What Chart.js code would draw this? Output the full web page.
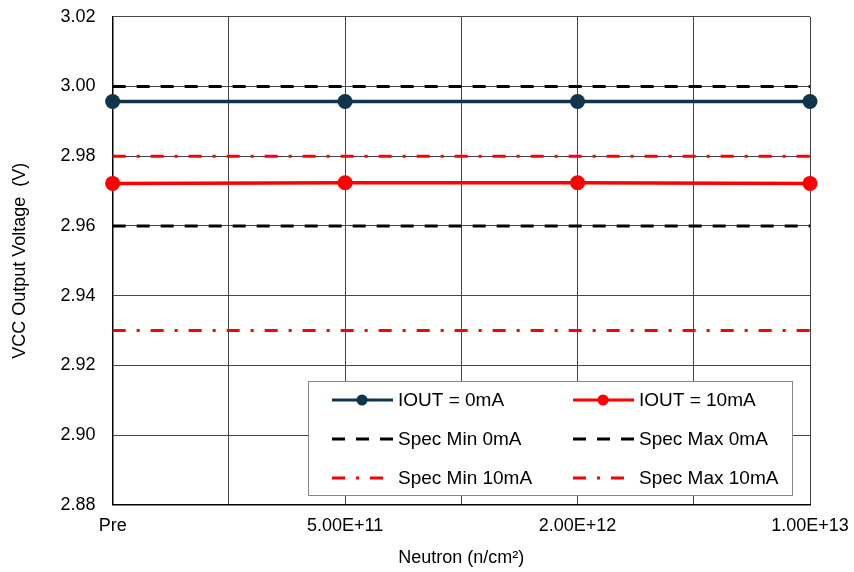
<!DOCTYPE html>
<html>
<head>
<meta charset="utf-8">
<script src="https://cdn.jsdelivr.net/npm/chart.js@4.4.1/dist/chart.umd.min.js"></script>
<style>
  html, body { margin: 0; padding: 0; background: #fff; }
  #wrap { width: 854px; height: 572px; }
</style>
</head>
<body>
<div id="wrap"><canvas id="chart" width="854" height="572"></canvas></div>
<script>
const categories = ['Pre', '5.00E+11', '2.00E+12', '1.00E+13'];
const iout0 = [2.9957, 2.9957, 2.9957, 2.9957];
const iout10 = [2.9722, 2.9724, 2.9724, 2.9722];
const specMin0 = [2.96, 2.96, 2.96, 2.96];
const specMax0 = [3.00, 3.00, 3.00, 3.00];
const specMin10 = [2.93, 2.93, 2.93, 2.93];
const specMax10 = [2.98, 2.98, 2.98, 2.98];
const yTicks = [2.88, 2.90, 2.92, 2.94, 2.96, 2.98, 3.00, 3.02];

const FONT = '"Liberation Sans", Arial, sans-serif';
const toXY = (arr) => arr.map((v, i) => ({ x: i, y: v }));

const DASH = [13, 11];
const DASHDOT = [13, 11, 3, 11];

const datasets = [
  { label: 'IOUT = 0mA', data: toXY(iout0), borderColor: '#0e3549', backgroundColor: '#0e3549',
    borderWidth: 3.5, pointRadius: 7.5, pointBorderWidth: 0, order: 1 },
  { label: 'IOUT = 10mA', data: toXY(iout10), borderColor: '#ff0000', backgroundColor: '#ff0000',
    borderWidth: 3.5, pointRadius: 7.5, pointBorderWidth: 0, order: 1 },
  { label: 'Spec Min 0mA', data: toXY(specMin0), borderColor: '#000', borderWidth: 3,
    borderDash: DASH, pointRadius: 0, order: 2 },
  { label: 'Spec Max 0mA', data: toXY(specMax0), borderColor: '#000', borderWidth: 3,
    borderDash: DASH, pointRadius: 0, order: 2 },
  { label: 'Spec Min 10mA', data: toXY(specMin10), borderColor: '#ff0000', borderWidth: 3,
    borderDash: DASHDOT, pointRadius: 0, order: 2 },
  { label: 'Spec Max 10mA', data: toXY(specMax10), borderColor: '#ff0000', borderWidth: 3,
    borderDash: DASHDOT, pointRadius: 0, order: 2 }
];

// legend box drawn inside the plot, bottom right
const boxLegend = {
  id: 'boxLegend',
  afterDraw(chart) {
    const { ctx, chartArea } = chart;
    const w = 484, h = 114;
    const x0 = Math.round(chartArea.right - 18 - w);
    const y0 = Math.round(chartArea.bottom - 10 - h);
    ctx.save();
    ctx.fillStyle = '#fff';
    ctx.fillRect(x0, y0, w, h);
    ctx.strokeStyle = '#888';
    ctx.lineWidth = 1;
    ctx.strokeRect(x0 + 0.5, y0 + 0.5, w, h);
    ctx.font = '19px ' + FONT;
    ctx.textBaseline = 'middle';
    chart.data.datasets.forEach((ds, i) => {
      const col = i % 2, row = Math.floor(i / 2);
      const lx = x0 + 24 + col * 241;
      const ly = y0 + 19 + row * 39;
      ctx.strokeStyle = ds.borderColor;
      ctx.lineWidth = 3;
      ctx.setLineDash(ds.borderDash || []);
      ctx.beginPath();
      ctx.moveTo(lx, ly);
      ctx.lineTo(lx + 61, ly);
      ctx.stroke();
      ctx.setLineDash([]);
      if (ds.pointRadius) {
        ctx.fillStyle = ds.backgroundColor;
        ctx.beginPath();
        ctx.arc(lx + 30, ly, 5.5, 0, Math.PI * 2);
        ctx.fill();
      }
      ctx.fillStyle = '#000';
      ctx.fillText(ds.label, lx + 66, ly + 1);
    });
    ctx.restore();
  }
};

new Chart(document.getElementById('chart'), {
  type: 'line',
  data: { datasets },
  options: {
    responsive: false,
    animation: false,
    clip: false,
    layout: { autoPadding: false, padding: { left: 0, right: 44, top: 6, bottom: 0 } },
    plugins: { legend: { display: false }, tooltip: { enabled: false } },
    scales: {
      x: {
        type: 'linear', min: 0, max: categories.length - 1,
        border: { display: true, color: '#000', width: 1.5 },
        grid: { color: '#444', lineWidth: 1, drawTicks: true, tickLength: 8, tickColor: 'rgba(0,0,0,0)' },
        ticks: {
          stepSize: 0.5, autoSkip: false, maxRotation: 0, padding: 2,
          color: '#000', font: { family: FONT, size: 18 },
          callback: (v) => Number.isInteger(v) ? categories[v] : ''
        },
        title: { display: true, text: 'Neutron (n/cm\u00B2)', color: '#000',
          font: { family: FONT, size: 18 }, padding: { top: 9, bottom: 3 } }
      },
      y: {
        min: yTicks[0], max: yTicks[yTicks.length - 1],
        border: { display: true, color: '#000', width: 1.5 },
        grid: { color: '#444', lineWidth: 1, drawTicks: true, tickLength: 11, tickColor: 'rgba(0,0,0,0)' },
        afterBuildTicks: (axis) => { axis.ticks = yTicks.map((v) => ({ value: v })); },
        ticks: {
          padding: 6, color: '#000', font: { family: FONT, size: 18 },
          callback: (v) => Number(v).toFixed(2)
        },
        title: { display: true, text: 'VCC Output Voltage  (V)', color: '#000',
          font: { family: FONT, size: 18 }, padding: { top: 9, bottom: 24 } }
      }
    }
  },
  plugins: [boxLegend]
});
</script>
</body>
</html>
